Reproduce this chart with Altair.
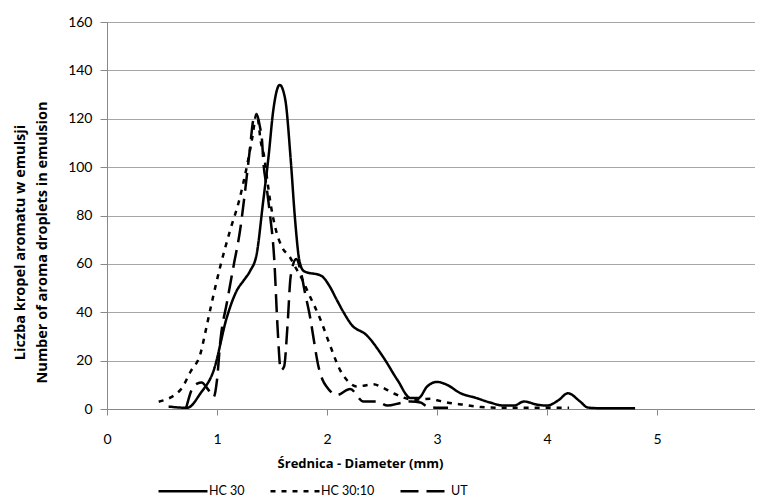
import altair as alt
import pandas as pd

series_names = ["HC 30", "HC 30:10", "UT"]

hc30_x = [0.56, 0.73, 0.85, 0.97, 1.09, 1.18, 1.24, 1.30, 1.36, 1.42, 1.47, 1.51, 1.57, 1.62, 1.67,
          1.71, 1.75, 1.79, 1.95, 2.02, 2.09, 2.15, 2.22, 2.36, 2.51, 2.64, 2.76, 2.83, 2.91, 3.00,
          3.09, 3.21, 3.36, 3.48, 3.61, 3.70, 3.79, 3.91, 4.00, 4.10, 4.19, 4.30, 4.37, 4.50, 4.80]
hc30_y = [1, 0.5, 6.5, 16, 38, 49, 53, 57, 64, 86, 105, 123, 134, 128, 103,
          78, 61, 57, 55, 51, 45, 40, 35, 30.5, 21.5, 12, 4.5, 4.5, 9.3, 11.2,
          10, 6.6, 4.5, 2.7, 1.4, 1.4, 3.1, 1.8, 1.4, 3.5, 6.5, 3.1, 0.6, 0.3, 0.3]

hc3010_x = [0.47, 0.67, 0.76, 0.85, 0.90, 0.95, 1.03, 1.12, 1.20, 1.27, 1.32, 1.36, 1.40, 1.43,
            1.45, 1.49, 1.53, 1.59, 1.66, 1.72, 1.77, 1.83, 1.94, 2.03, 2.12, 2.18, 2.27, 2.42,
            2.50, 2.60, 2.79, 2.94, 3.00, 3.14, 3.24, 3.40, 3.60, 4.00, 4.20]
hc3010_y = [3, 8, 15.5, 23, 33, 43.5, 59, 74, 86, 100, 112, 122, 110, 104,
            97, 84, 75, 67, 63, 58, 54, 48, 37, 26, 16, 12, 9.3, 10.2,
            9, 6.6, 3.8, 4.2, 3.6, 2.3, 1.8, 0.8, 0.5, 0.5, 0.5]

ut_x = [0.72, 0.77, 0.82, 0.86, 0.92, 0.97, 1.00, 1.03, 1.09, 1.15, 1.21, 1.26, 1.30, 1.33, 1.36,
        1.39, 1.41, 1.42, 1.45, 1.48, 1.52, 1.55, 1.58, 1.61, 1.64, 1.67, 1.72, 1.76, 1.80, 1.85,
        1.88, 1.92, 1.96, 2.00, 2.09, 2.21, 2.33, 2.45, 2.55, 2.67, 2.76, 2.85, 2.91, 3.00, 3.10]
ut_y = [0.5, 8, 10.5, 11, 8, 5, 12, 28, 44, 59, 74, 92, 108, 119.5, 122,
        116.7, 110.5, 103, 92, 81, 62, 34, 16, 17.6, 34, 55, 62, 57, 48, 37,
        28.5, 18, 12, 9, 5.8, 8.3, 3.1, 3.1, 1.4, 2.5, 3.1, 2.7, 1, 0.5, 0.5]

x_ticks = [0, 1, 2, 3, 4, 5]
y_ticks = [0, 20, 40, 60, 80, 100, 120, 140, 160]

rows = []
for name, xs, ys in [("HC 30", hc30_x, hc30_y), ("HC 30:10", hc3010_x, hc3010_y), ("UT", ut_x, ut_y)]:
    for i, (xv, yv) in enumerate(zip(xs, ys)):
        rows.append({"series": name, "x": xv, "y": yv, "order": i})
df = pd.DataFrame(rows)

FONT = "Lato"
TFONT = "Open Sans"

chart = alt.Chart(df).mark_line(
    interpolate="monotone", strokeWidth=2.5, color="black"
).encode(
    x=alt.X("x:Q",
            scale=alt.Scale(domain=[0, 5.89], nice=False, zero=False),
            axis=alt.Axis(values=x_ticks, title="Średnica - Diameter (mm)", grid=False,
                          labelFont=FONT, labelFontSize=14, labelColor="black",
                          labelPadding=17, tickSize=6, tickColor="#888888",
                          domainColor="#888888", labelFlush=False,
                          titleFont=TFONT, titleFontSize=13, titleFontWeight="bold", titleColor="black",
                          titleX=253, titleY=54, titleBaseline="middle", titleAlign="center")),
    y=alt.Y("y:Q",
            scale=alt.Scale(domain=[0, 160], nice=False),
            axis=alt.Axis(values=y_ticks, title=["Liczba kropel aromatu w emulsji",
                                                 "Number of aroma droplets in emulsion"],
                          grid=True, gridColor="#a6a6a6", gridWidth=1,
                          labelFont=FONT, labelFontSize=14, labelColor="black",
                          labelPadding=8, tickSize=7, tickColor="#888888",
                          domainColor="#888888",
                          titleFont=TFONT, titleFontSize=14.5, titleFontWeight="bold", titleColor="black",
                          titleAngle=270, titleX=-83, titleY=220, titleAlign="center",
                          titleBaseline="alphabetic", titleLineHeight=22)),
    strokeDash=alt.StrokeDash("series:N",
                              scale=alt.Scale(domain=series_names, range=[[1, 0], [5, 6], [18, 8]]),
                              legend=alt.Legend(title=None, orient="none", legendX=50, legendY=443,
                                                direction="horizontal", symbolType="stroke",
                                                symbolSize=2400, symbolStrokeWidth=2.5,
                                                symbolStrokeColor="black",
                                                labelFont=FONT, labelFontSize=12.5, labelColor="black",
                                                labelOffset=0, columnPadding=20, padding=0)),
    order="order:Q",
).properties(
    width=648, height=387,
    autosize=alt.AutoSizeParams(type="none"),
    padding={"left": 99, "top": 14, "right": 0, "bottom": 92},
).configure_view(stroke=None)

chart.save("out.html", embed_options={"renderer": "svg", "actions": False})
